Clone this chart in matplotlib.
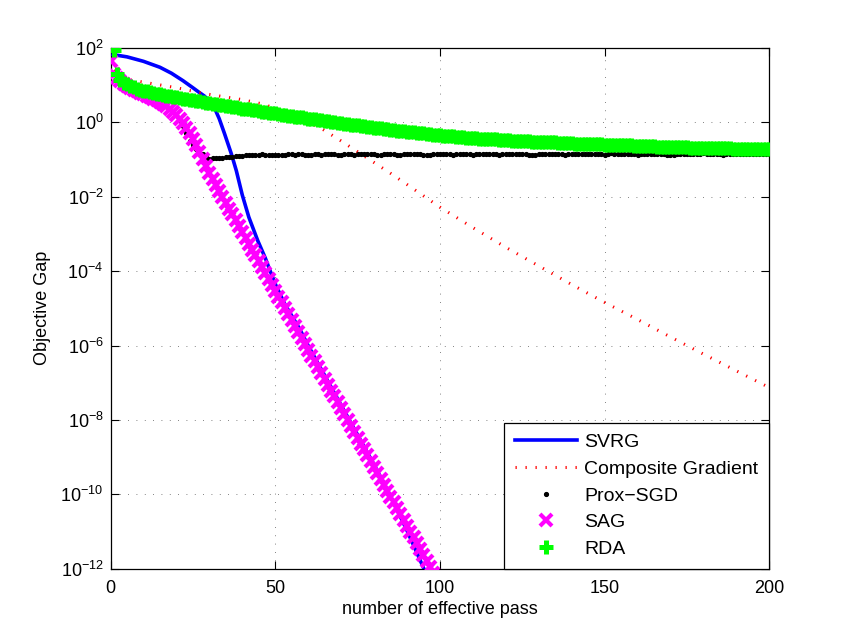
import numpy as np
import matplotlib
matplotlib.use("Agg")
import matplotlib.pyplot as plt

plt.rcParams['font.family'] = ['Liberation Sans', 'DejaVu Sans']
plt.rcParams['mathtext.default'] = 'regular'
plt.rcParams['font.size'] = 13

# ---------------- data (log10 of objective gap) ----------------
svrg_x = [0.8, 5, 10, 15, 18.5, 22, 25, 27, 28.6, 30, 31.6, 33, 34.6, 36.7, 38.2, 40, 42, 44.7,
          47, 48.5, 50.3, 53, 57.4, 60, 65, 70, 75, 80, 85, 90, 95, 97]
svrg_log = [1.82, 1.76, 1.64, 1.48, 1.32, 1.12, 0.93, 0.80, 0.70, 0.55, 0.38, 0.10, -0.30, -0.85,
            -1.30, -1.95, -2.55, -3.18, -3.65, -4.00, -4.40, -4.90, -5.55, -6.00, -6.80, -7.60,
            -8.40, -9.20, -10.05, -10.97, -11.97, -12.40]

comp_x = [1, 3, 6, 10, 20, 28.6, 35, 40, 45.8, 50, 55, 60, 63.4, 70, 77.6, 85, 90, 100, 110,
          120, 130, 140, 150, 160, 170, 180, 190, 200]
comp_log = [1.40, 1.22, 1.14, 1.08, 0.93, 0.77, 0.68, 0.61, 0.50, 0.38, 0.20, 0.00, -0.13, -0.50,
            -0.94, -1.37, -1.67, -2.28, -2.83, -3.36, -3.86, -4.36, -4.84, -5.30, -5.77, -6.23,
            -6.68, -7.13]

# Prox-SGD, one value per pass starting at pass 0
prox_log = [1.66, 1.30, 1.18, 1.10, 1.04, 0.98, 0.93, 0.88, 0.83, 0.79,
            0.75, 0.71, 0.67, 0.63, 0.59, 0.54, 0.49, 0.44, 0.38, 0.31,
            0.22, 0.07, -0.10, -0.30, -0.49, -0.61, -0.71, -0.79, -0.86, -0.92,
            -0.98, -0.97, -0.96, -0.96, -0.95, -0.94, -0.93,
            -0.92, -0.91, -0.90, -0.90, -0.89, -0.88, -0.89, -0.89, -0.87, -0.86,
            -0.87, -0.88, -0.87, -0.87, -0.88, -0.89, -0.87, -0.86, -0.86, -0.87,
            -0.86, -0.85, -0.87, -0.88, -0.87, -0.86, -0.86, -0.87, -0.85, -0.84,
            -0.85, -0.86, -0.87, -0.88, -0.86, -0.85, -0.86, -0.87, -0.86, -0.86,
            -0.85, -0.84, -0.85, -0.86, -0.87, -0.88, -0.86, -0.85, -0.86, -0.86,
            -0.87, -0.87, -0.85, -0.84, -0.85, -0.86, -0.86, -0.85, -0.87, -0.88,
            -0.87, -0.86, -0.85, -0.85, -0.84, -0.84, -0.86, -0.87, -0.86, -0.86,
            -0.85, -0.85, -0.86, -0.87, -0.85, -0.84, -0.85, -0.86, -0.86, -0.85,
            -0.86, -0.87, -0.86, -0.85, -0.85, -0.86, -0.85, -0.84, -0.84, -0.85,
            -0.87, -0.88, -0.87, -0.86, -0.85, -0.85, -0.85, -0.84, -0.85, -0.86,
            -0.86, -0.87, -0.86, -0.85, -0.84, -0.84, -0.85, -0.86, -0.85, -0.85,
            -0.84, -0.84, -0.86, -0.87, -0.85, -0.83, -0.84, -0.85, -0.86, -0.86,
            -0.85, -0.84, -0.86, -0.88, -0.86, -0.85, -0.85, -0.86, -0.85, -0.84,
            -0.84, -0.85, -0.87, -0.88, -0.87, -0.86, -0.85, -0.84, -0.85, -0.86,
            -0.86, -0.85, -0.84, -0.83, -0.84, -0.86, -0.86, -0.85, -0.86, -0.87,
            -0.86, -0.84, -0.85, -0.86, -0.86, -0.85, -0.85, -0.84, -0.85, -0.86,
            -0.86, -0.85, -0.85, -0.86]

# SAG, one value per pass starting at pass 0
sag_log = [1.66, 1.30, 1.18, 1.10, 1.04, 0.98, 0.93, 0.88, 0.83, 0.79, 0.75, 0.71, 0.67, 0.63,
           0.59, 0.54, 0.49, 0.43, 0.36, 0.28, 0.19, 0.09, -0.03, -0.16, -0.30, -0.46, -0.62,
           -0.80, -0.98, -1.17, -1.35, -1.52, -1.68, -1.84, -2.00, -2.16, -2.32, -2.47, -2.63,
           -2.79, -2.95, -3.11, -3.26, -3.42, -3.58, -3.74, -3.90, -4.05, -4.21, -4.37, -4.53,
           -4.69, -4.84, -5.00, -5.16, -5.32, -5.48, -5.63, -5.79, -5.95, -6.11, -6.27, -6.42,
           -6.58, -6.74, -6.90, -7.06, -7.21, -7.37, -7.53, -7.69, -7.85, -8.00, -8.16, -8.32,
           -8.48, -8.64, -8.79, -8.95, -9.11, -9.27, -9.43, -9.58, -9.74, -9.90, -10.06, -10.22,
           -10.37, -10.53, -10.69, -10.85, -11.01, -11.16, -11.32, -11.48, -11.64, -11.80,
           -11.95, -12.11]

# RDA, one value per pass starting at pass 1
rda_log = [1.95, 1.30, 1.15, 1.07, 1.02, 0.98, 0.94, 0.90, 0.87, 0.85,
           0.83, 0.81, 0.79, 0.77, 0.75, 0.74, 0.72, 0.71, 0.69, 0.67,
           0.66, 0.64, 0.62, 0.61, 0.59, 0.58, 0.56, 0.55, 0.53, 0.52,
           0.50, 0.49, 0.47, 0.46, 0.44, 0.43, 0.41, 0.40, 0.38, 0.37,
           0.36, 0.35, 0.33, 0.32, 0.30, 0.29, 0.27, 0.26, 0.25, 0.24,
           0.22, 0.21, 0.19, 0.18, 0.16, 0.15, 0.14, 0.13, 0.11, 0.10,
           0.09, 0.08, 0.06, 0.05, 0.04, 0.03, 0.01, 0.00, -0.01, -0.02,
           -0.04, -0.05, -0.06, -0.07, -0.08, -0.09, -0.11, -0.12, -0.13, -0.14,
           -0.15, -0.16, -0.18, -0.19, -0.20, -0.21, -0.22, -0.23, -0.24, -0.25,
           -0.26, -0.27, -0.28, -0.29, -0.30, -0.31, -0.32, -0.33, -0.34, -0.35,
           -0.36, -0.37, -0.37, -0.38, -0.39, -0.40, -0.40, -0.41, -0.41, -0.42,
           -0.43, -0.44, -0.44, -0.45, -0.45, -0.46, -0.46, -0.47, -0.47, -0.48,
           -0.48, -0.49, -0.49, -0.50, -0.50, -0.51, -0.51, -0.52, -0.52, -0.52,
           -0.53, -0.53, -0.54, -0.54, -0.54, -0.55, -0.55, -0.55, -0.56, -0.56,
           -0.57, -0.57, -0.57, -0.58, -0.58, -0.58, -0.59, -0.59, -0.59, -0.60,
           -0.60, -0.60, -0.61, -0.61, -0.61, -0.62, -0.62, -0.62, -0.63, -0.63,
           -0.63, -0.64, -0.64, -0.64, -0.64, -0.65, -0.65, -0.65, -0.66, -0.66,
           -0.66, -0.67, -0.67, -0.67, -0.67, -0.68, -0.68, -0.68, -0.68, -0.69,
           -0.69, -0.69, -0.69, -0.70, -0.70, -0.70, -0.70, -0.70, -0.71, -0.71,
           -0.71, -0.71, -0.71, -0.72, -0.72, -0.72, -0.72, -0.73, -0.73, -0.73]

prox_x = np.arange(len(prox_log))
sag_x = np.arange(len(sag_log))
rda_x = np.arange(1, len(rda_log) + 1)

labels = ['SVRG', 'Composite Gradient', 'Prox\u2212SGD', 'SAG', 'RDA']
x_ticks = [0, 50, 100, 150, 200]
y_ticks = [1e-12, 1e-10, 1e-8, 1e-6, 1e-4, 1e-2, 1e0, 1e2]

# ---------------- plot ----------------
fig = plt.figure(figsize=(8.5, 6.39), dpi=100)
ax = fig.add_axes([0.13, 0.11, 0.775, 0.815])

ax.plot(svrg_x, 10 ** np.array(svrg_log), color=(0, 0, 1), lw=2.6, label=labels[0], zorder=3)
lw_c = 2.2
ax.plot(comp_x, 10 ** np.array(comp_log), color=(1, 0, 0), lw=lw_c,
        linestyle=(0, (0.9 / lw_c, 6.3 / lw_c)), label=labels[1], zorder=3)
ax.plot(prox_x, 10 ** np.array(prox_log), linestyle='none', marker='.', color='black',
        markersize=5.5, label=labels[2], zorder=4)
ax.plot(sag_x, 10 ** np.array(sag_log), linestyle='none', marker='x', color=(1, 0, 1),
        markersize=9, markeredgewidth=3, label=labels[3], zorder=5)
ax.plot(rda_x, 10 ** np.array(rda_log), linestyle='none', marker='+', color=(0, 1, 0),
        markersize=10.5, markeredgewidth=3.6, label=labels[4], zorder=6)

ax.set_yscale('log')
ax.set_xlim(0, 200)
ax.set_ylim(1e-12, 1e2)
ax.set_xticks(x_ticks)
ax.set_yticks(y_ticks)
ax.yaxis.set_minor_locator(matplotlib.ticker.NullLocator())
ax.tick_params(direction='in', length=6, width=0.8, top=True, right=True, labelsize=13)
ax.tick_params(axis='x', pad=8)
ax.tick_params(axis='y', pad=5)
ax.grid(True, which='major', color='0.35', lw=0.6, linestyle=(0, (1, 9)))
for s in ax.spines.values():
    s.set_linewidth(0.9)

ax.set_xlabel('number of effective pass', fontsize=13, labelpad=3)
ax.set_ylabel('Objective Gap', fontsize=13, labelpad=7)

leg = ax.legend(loc='lower right', bbox_to_anchor=(1, 0), borderaxespad=0, fancybox=False,
                edgecolor='black', framealpha=1, numpoints=1, handlelength=3.2,
                handletextpad=0.38, labelspacing=0.47, borderpad=0.55, fontsize=14)
leg.get_frame().set_linewidth(0.9)
leg.set_zorder(10)

fig.savefig('out.png', dpi=100, facecolor='white')
